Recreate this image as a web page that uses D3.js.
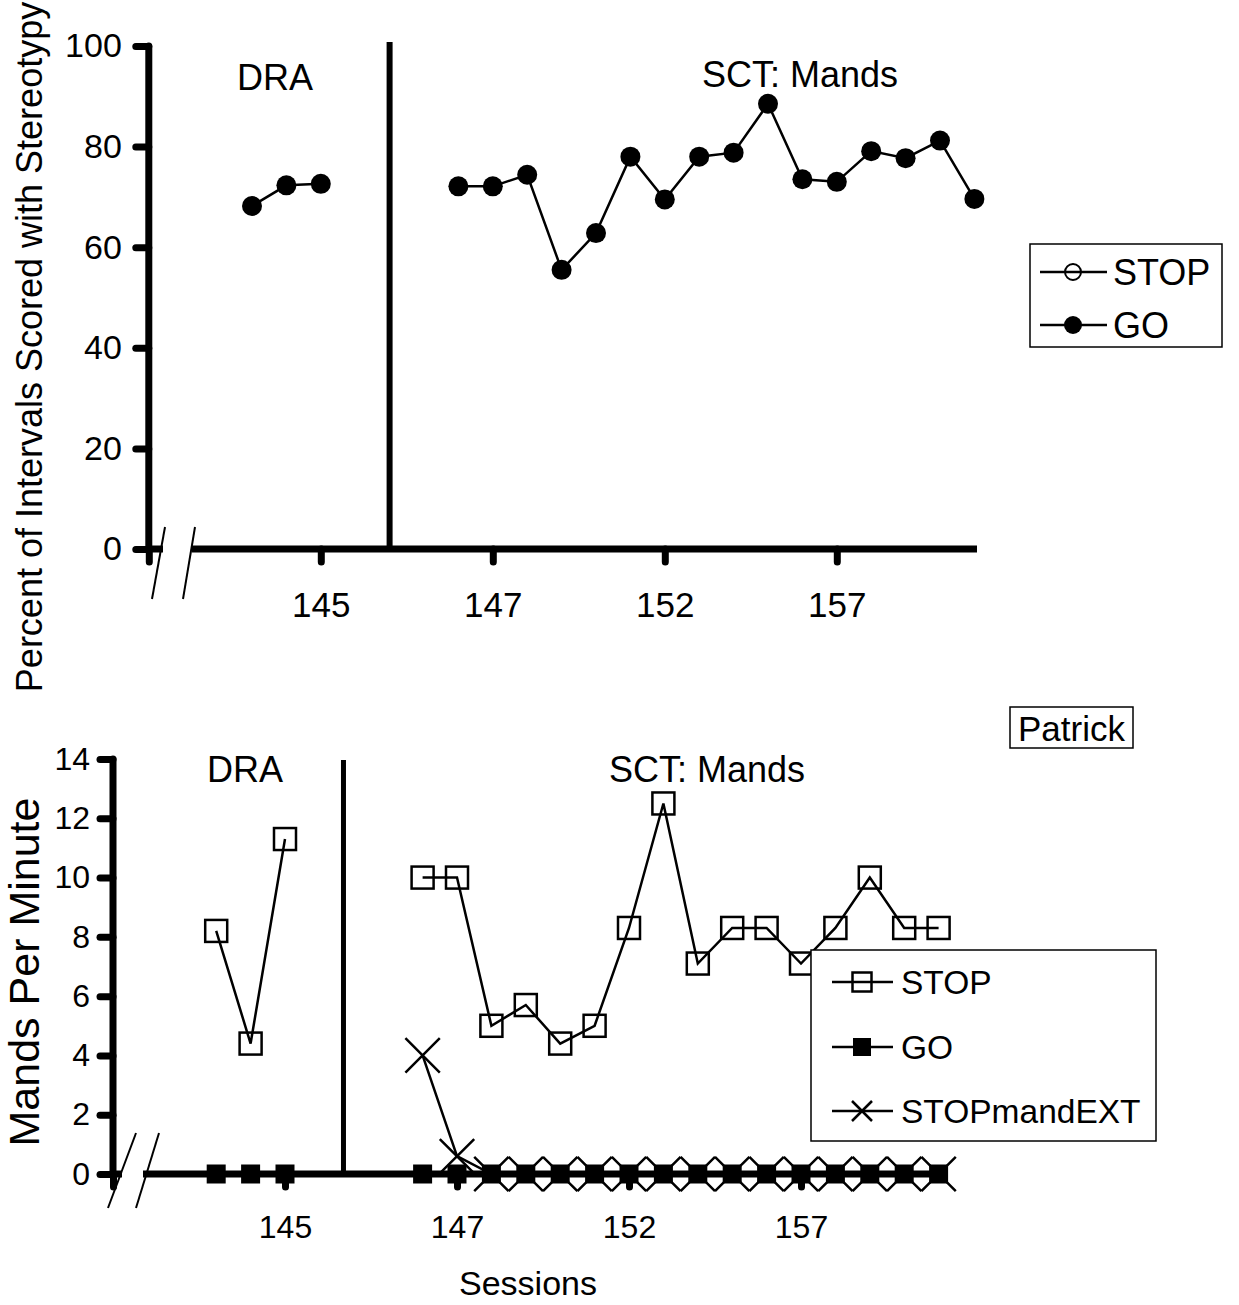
<!DOCTYPE html>
<html>
<head>
<meta charset="utf-8">
<script src="https://cdn.jsdelivr.net/npm/d3@7"></script>
<style>
  body { margin: 0; background: #fff; }
  svg { display: block; }
  text { font-family: "Liberation Sans", Arial, sans-serif; fill: #000; }
</style>
</head>
<body>
<svg id="chart" width="1239" height="1305"></svg>
<script>
// ---- Data ----------------------------------------------------------------
// Category slots along the session axis. Padding slots sit under the axis
// break; gap slots separate the DRA phase from the SCT phase.
const slots = ["pad0", "pad1", "pad2", 143, 144, 145, "gap0", "gap1", "gap2",
  146, 147, 148, 149, 150, 151, 152, 153, 154, 155, 156, 157, 158, 159, 160, 161];
const tickEvery = 5;

const draSessions = [143, 144, 145];
const sctSessions = [146, 147, 148, 149, 150, 151, 152, 153, 154, 155, 156, 157, 158, 159, 160, 161];

// Percent of intervals with stereotypy (GO condition)
const stereoGoDRA = [68.2, 72.3, 72.6];
const stereoGoSCT = [72.1, 72.1, 74.4, 55.5, 62.8, 78.0, 69.5, 78.0, 78.8, 88.5, 73.5, 73.0, 79.1, 77.7, 81.2, 69.6];

// Mands per minute
const mandsStopDRA = [8.2, 4.4, 11.3];
const mandsStopSCT = [10, 10, 5.0, 5.7, 4.4, 5.0, 8.3, 12.5, 7.1, 8.3, 8.3, 7.1, 8.3, 10, 8.3, 8.3];
const mandsGoDRA = [0, 0, 0];
const mandsGoSCT = [0, 0, 0, 0, 0, 0, 0, 0, 0, 0, 0, 0, 0, 0, 0, 0];
const mandsStopExtSCT = [4, 0.6, 0, 0, 0, 0, 0, 0, 0, 0, 0, 0, 0, 0, 0, 0];

const stereoTicks = [0, 20, 40, 60, 80, 100];
const mandsTicks = [0, 2, 4, 6, 8, 10, 12, 14];

const topLegend = ["STOP", "GO"];
const bottomLegend = ["STOP", "GO", "STOPmandEXT"];

// ---- Drawing ---------------------------------------------------------------
const svg = d3.select("#chart");
const zip = (s, v) => s.map((d, i) => ({ s: d, v: v[i] }));

function drawPanel(cfg) {
  const g = svg.append("g");
  const x = d3.scalePoint().domain(slots).range(cfg.xRange);
  const y = d3.scaleLinear().domain(cfg.yDomain).range(cfg.yRange);
  const x0 = cfg.xRange[0];
  const y0 = y(0);

  // y axis
  const ya = g.append("g").attr("transform", `translate(${x0},0)`)
    .call(d3.axisLeft(y).tickValues(cfg.yTicks).tickSize(13).tickPadding(cfg.yPad));
  ya.select(".domain").remove();
  ya.selectAll(".tick line").attr("stroke", "#000").attr("stroke-width", 7).attr("stroke-linecap", "round");
  ya.selectAll(".tick text").attr("font-size", cfg.yTickFont).attr("font-family", "Liberation Sans, Arial, sans-serif");
  g.append("line").attr("x1", x0).attr("x2", x0)
    .attr("y1", y(cfg.yDomain[1])).attr("y2", y0)
    .attr("stroke", "#000").attr("stroke-width", 7).attr("stroke-linecap", "round");

  // x axis with a break near the origin
  const xa = g.append("g").attr("transform", `translate(0,${y0})`)
    .call(d3.axisBottom(x)
      .tickValues(slots.filter((d, i) => i % tickEvery === 0))
      .tickSize(13).tickPadding(cfg.xPad)
      .tickFormat(d => typeof d === "number" ? d : ""));
  xa.select(".domain").remove();
  xa.selectAll(".tick line").attr("stroke", "#000").attr("stroke-width", 7).attr("stroke-linecap", "round");
  xa.selectAll(".tick text").attr("font-size", cfg.xTickFont).attr("font-family", "Liberation Sans, Arial, sans-serif");

  g.append("line").attr("x1", x0).attr("x2", cfg.brk.a).attr("y1", y0).attr("y2", y0)
    .attr("stroke", "#000").attr("stroke-width", 7);
  g.append("line").attr("x1", cfg.brk.b).attr("x2", cfg.xEnd).attr("y1", y0).attr("y2", y0)
    .attr("stroke", "#000").attr("stroke-width", 7);
  cfg.brk.slashes.forEach(s => {
    g.append("line").attr("x1", s[0]).attr("y1", s[1]).attr("x2", s[2]).attr("y2", s[3])
      .attr("stroke", "#000").attr("stroke-width", 2);
  });

  // phase change line
  const px = x(cfg.phase.slot) + cfg.phase.offset * x.step();
  g.append("line").attr("x1", px).attr("x2", px).attr("y1", cfg.phase.top).attr("y2", y0)
    .attr("stroke", "#000").attr("stroke-width", cfg.phase.width);

  // phase labels
  cfg.labels.forEach(l => {
    g.append("text").attr("x", l.x).attr("y", l.y).attr("text-anchor", "middle")
      .attr("font-size", cfg.labelFont).text(l.t);
  });

  // axis title
  g.append("text")
    .attr("transform", `translate(${cfg.title.x},${cfg.title.y}) rotate(-90)`)
    .attr("text-anchor", "middle").attr("font-size", cfg.title.size).text(cfg.title.t);

  return { g, x, y };
}

const line = (x, y) => d3.line().x(d => x(d.s)).y(d => y(d.v));

// ---- Top panel: stereotypy ----
const stereoPanel = drawPanel({
  xRange: [148.8, 974.4], xEnd: 977,
  yDomain: [0, 100], yRange: [549, 46], yTicks: stereoTicks,
  yPad: 14, xPad: 30, yTickFont: 34, xTickFont: 35, labelFont: 36,
  brk: { a: 163, b: 192, slashes: [[165, 527, 152, 599], [195, 527, 183, 599]] },
  phase: { slot: "gap1", offset: 0, top: 42, width: 6 },
  labels: [{ t: "DRA", x: 275, y: 90 }, { t: "SCT: Mands", x: 800, y: 87 }],
  title: { t: "Percent of Intervals Scored with Stereotypy", x: 42, y: 347, size: 36 }
});

[zip(draSessions, stereoGoDRA), zip(sctSessions, stereoGoSCT)].forEach(seg => {
  stereoPanel.g.append("path").datum(seg).attr("d", line(stereoPanel.x, stereoPanel.y))
    .attr("fill", "none").attr("stroke", "#000").attr("stroke-width", 2.5);
  stereoPanel.g.selectAll(null).data(seg).enter().append("circle")
    .attr("cx", d => stereoPanel.x(d.s)).attr("cy", d => stereoPanel.y(d.v)).attr("r", 10).attr("fill", "#000");
});

// top legend
const tl = svg.append("g");
tl.append("rect").attr("x", 1030).attr("y", 244).attr("width", 192).attr("height", 103)
  .attr("fill", "#fff").attr("stroke", "#000").attr("stroke-width", 1.5);
topLegend.forEach((name, i) => {
  const ly = 272 + i * 53;
  tl.append("line").attr("x1", 1040).attr("x2", 1107).attr("y1", ly).attr("y2", ly)
    .attr("stroke", "#000").attr("stroke-width", 2.5);
  if (name === "STOP") {
    tl.append("circle").attr("cx", 1073).attr("cy", ly).attr("r", 8)
      .attr("fill", "none").attr("stroke", "#000").attr("stroke-width", 2);
  } else {
    tl.append("circle").attr("cx", 1073).attr("cy", ly).attr("r", 9).attr("fill", "#000");
  }
  tl.append("text").attr("x", 1113).attr("y", ly + 13).attr("font-size", 36).text(name);
});

// ---- Bottom panel: mands ----
const mandsPanel = drawPanel({
  xRange: [113, 938.6], xEnd: 945,
  yDomain: [0, 14], yRange: [1174, 759], yTicks: mandsTicks,
  yPad: 10, xPad: 28, yTickFont: 32, xTickFont: 32, labelFont: 36,
  brk: { a: 122, b: 143, slashes: [[136, 1133, 108, 1208], [159, 1133, 136, 1208]] },
  phase: { slot: "gap0", offset: 0.7, top: 760, width: 5 },
  labels: [{ t: "DRA", x: 245, y: 782 }, { t: "SCT: Mands", x: 707, y: 782 }],
  title: { t: "Mands Per Minute", x: 39, y: 972, size: 43 }
});

const sq = (g, cx, cy, s, filled) => g.append("rect")
  .attr("x", cx - s / 2).attr("y", cy - s / 2).attr("width", s).attr("height", s)
  .attr("fill", filled ? "#000" : "none").attr("stroke", filled ? "none" : "#000")
  .attr("stroke-width", 2.5);
const cross = (g, cx, cy, h) => g.append("path")
  .attr("d", `M${cx - h},${cy - h}L${cx + h},${cy + h}M${cx - h},${cy + h}L${cx + h},${cy - h}`)
  .attr("stroke", "#000").attr("stroke-width", 2.5).attr("fill", "none");

const mx = mandsPanel.x, my = mandsPanel.y, mg = mandsPanel.g;

// GO (filled squares)
[zip(draSessions, mandsGoDRA), zip(sctSessions, mandsGoSCT)].forEach(seg => {
  mg.append("path").datum(seg).attr("d", line(mx, my))
    .attr("fill", "none").attr("stroke", "#000").attr("stroke-width", 2.5);
  seg.forEach(d => sq(mg, mx(d.s), my(d.v), 19, true));
});

// STOPmandEXT (crosses)
{
  const seg = zip(sctSessions, mandsStopExtSCT);
  mg.append("path").datum(seg).attr("d", line(mx, my))
    .attr("fill", "none").attr("stroke", "#000").attr("stroke-width", 2.5);
  seg.forEach(d => cross(mg, mx(d.s), my(d.v), mx.step() / 2));
}

// STOP (open squares)
[zip(draSessions, mandsStopDRA), zip(sctSessions, mandsStopSCT)].forEach(seg => {
  mg.append("path").datum(seg).attr("d", line(mx, my))
    .attr("fill", "none").attr("stroke", "#000").attr("stroke-width", 2.5);
  seg.forEach(d => sq(mg, mx(d.s), my(d.v), 22, false));
});

// x axis title
svg.append("text").attr("x", 528).attr("y", 1295).attr("text-anchor", "middle")
  .attr("font-size", 34).text("Sessions");

// participant label
svg.append("rect").attr("x", 1010).attr("y", 707).attr("width", 123).attr("height", 41)
  .attr("fill", "#fff").attr("stroke", "#000").attr("stroke-width", 1.5);
svg.append("text").attr("x", 1071.5).attr("y", 741).attr("text-anchor", "middle")
  .attr("font-size", 35).text("Patrick");

// bottom legend
const bl = svg.append("g");
bl.append("rect").attr("x", 811).attr("y", 950).attr("width", 345).attr("height", 191)
  .attr("fill", "#fff").attr("stroke", "#000").attr("stroke-width", 1.5);
bottomLegend.forEach((name, i) => {
  const ly = [982, 1047, 1111][i];
  bl.append("line").attr("x1", 832).attr("x2", 893).attr("y1", ly).attr("y2", ly)
    .attr("stroke", "#000").attr("stroke-width", 2.5);
  if (name === "STOP") sq(bl, 862, ly, 19, false);
  else if (name === "GO") sq(bl, 862, ly, 18, true);
  else cross(bl, 862, ly, 10);
  bl.append("text").attr("x", 901).attr("y", ly + 12).attr("font-size", 33.5).text(name);
});
</script>
</body>
</html>
